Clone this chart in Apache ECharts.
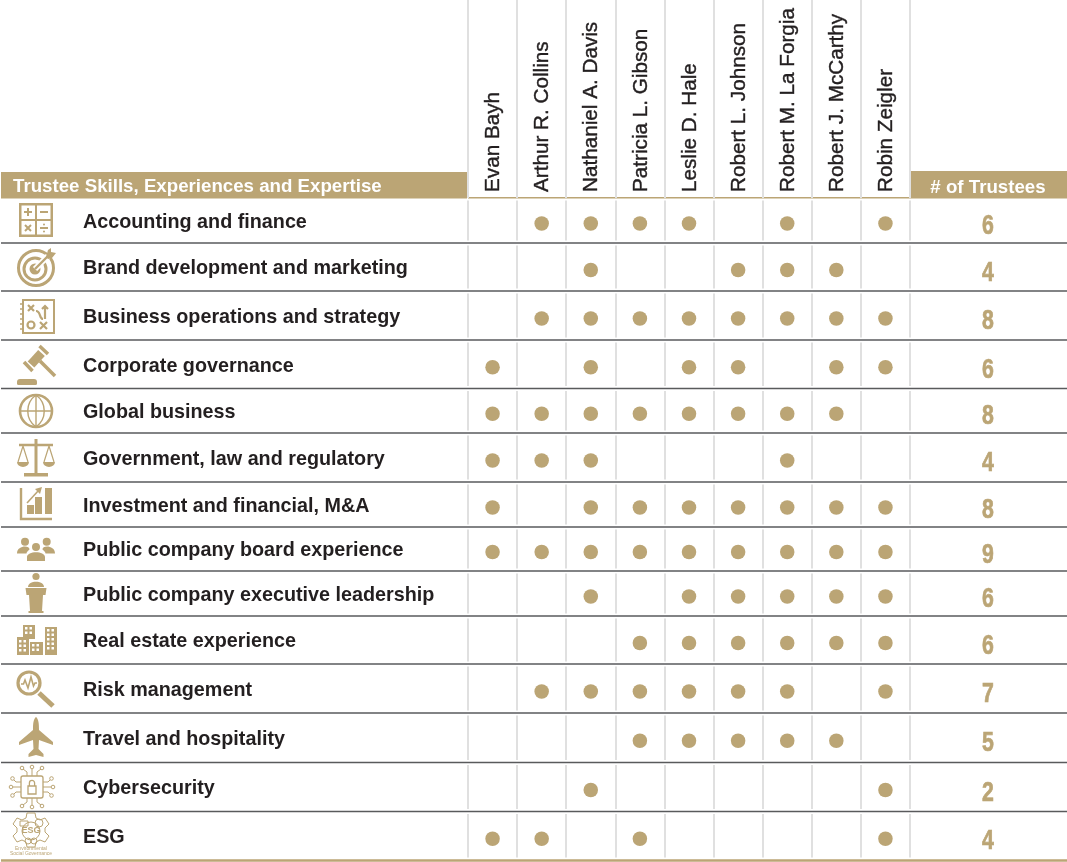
<!doctype html>
<html>

<head>
    <meta charset="utf-8">
    <title>Trustee skills matrix</title>
    <script src="https://cdn.jsdelivr.net/npm/echarts@6/dist/echarts.min.js"></script>
    <style>
        html, body { margin: 0; padding: 0; background: #fff; }
        #container { width: 1067px; height: 862px; }
    </style>
</head>

<body>
    <div id="container"></div>

    <script type="text/javascript">
        // chart data
        var trusteeNames = ['Evan Bayh', 'Arthur R. Collins', 'Nathaniel A. Davis', 'Patricia L. Gibson', 'Leslie D. Hale',
            'Robert L. Johnson', 'Robert M. La Forgia', 'Robert J. McCarthy', 'Robin Zeigler'];
        var skillNames = ['Accounting and finance', 'Brand development and marketing', 'Business operations and strategy',
            'Corporate governance', 'Global business', 'Government, law and regulatory', 'Investment and financial, M&A',
            'Public company board experience', 'Public company executive leadership', 'Real estate experience',
            'Risk management', 'Travel and hospitality', 'Cybersecurity', 'ESG'];
        var trusteeCounts = [6, 4, 8, 6, 8, 4, 8, 9, 6, 6, 7, 5, 2, 4];
        var skillMatrix = [
            [0, 1, 1, 1, 1, 0, 1, 0, 1],
            [0, 0, 1, 0, 0, 1, 1, 1, 0],
            [0, 1, 1, 1, 1, 1, 1, 1, 1],
            [1, 0, 1, 0, 1, 1, 0, 1, 1],
            [1, 1, 1, 1, 1, 1, 1, 1, 0],
            [1, 1, 1, 0, 0, 0, 1, 0, 0],
            [1, 0, 1, 1, 1, 1, 1, 1, 1],
            [1, 1, 1, 1, 1, 1, 1, 1, 1],
            [0, 0, 1, 0, 1, 1, 1, 1, 1],
            [0, 0, 0, 1, 1, 1, 1, 1, 1],
            [0, 1, 1, 1, 1, 1, 1, 0, 1],
            [0, 0, 0, 1, 1, 1, 1, 1, 0],
            [0, 0, 1, 0, 0, 0, 0, 0, 1],
            [1, 1, 0, 1, 0, 0, 0, 0, 1]
        ];

        // layout: the rows of the table are not all the same height
        var rowEdges = [198, 243, 291, 340, 388.5, 433, 482, 527, 571, 616, 664, 713, 762.5, 811.5, 860];
        var GOLD = '#bba575';
        var INK = '#231f20';
        var FONT = '"Liberation Sans", Arial, sans-serif';

        function circle(x, y, r) {
            return 'M' + (x - r) + ' ' + y + 'A' + r + ' ' + r + ' 0 1 0 ' + (x + r) + ' ' + y +
                'A' + r + ' ' + r + ' 0 1 0 ' + (x - r) + ' ' + y + 'Z';
        }
        function box(x, y, w, h) {
            return 'M' + x + ' ' + y + 'h' + w + 'v' + h + 'h' + (-w) + 'Z';
        }
        function windows(x, y, cols, rows, step) {
            var d = '';
            for (var a = 0; a < cols; a++) {
                for (var b = 0; b < rows; b++) {
                    d += box(x + a * step, y + b * step, step * 0.55, step * 0.55);
                }
            }
            return d;
        }

        // icons, drawn around their own centre. f = filled, w = white filled, s = stroke width
        var skillIcons = [
            { cx: 36, cy: 220, parts: [
                { f: box(-17, -17, 34, 34) },
                { w: box(-14.5, -14.5, 13.5, 13.5) + box(1, -14.5, 13.5, 13.5) + box(-14.5, 1, 13.5, 13.5) + box(1, 1, 13.5, 13.5) },
                { s: 2, d: 'M-12 -8h8M-8 -12v8M4 -8h8M-11 5l6 6M-5 5l-6 6M4 8h8' },
                { f: circle(8, 4.5, 1) + circle(8, 11.5, 1) }
            ] },
            { cx: 36, cy: 268, parts: [
                { s: 3, d: circle(0, 0, 17.5) },
                { s: 3, d: circle(-1, 1, 11) },
                { f: circle(-1, 1, 5.5) },
                { s: 6, white: true, d: 'M-1 1L12 -12' },
                { s: 2.4, d: 'M-1 1L13 -13' },
                { f: 'M10 -11L12 -18L15 -20L15 -16L20 -15L16 -10L12 -9Z' }
            ] },
            { cx: 37, cy: 316, parts: [
                { s: 2, d: box(-14, -16, 31, 33) },
                { s: 1.6, d: 'M-17 -12h4M-17 -7h4M-17 -2h4M-17 3h4M-17 8h4M-17 13h4' },
                { s: 2.2, d: 'M-9 -11l6 6M-3 -11l-6 6M3 6l7 7M10 6l-7 7M-1 -5C4 -5 2 3 6 3M8 3V-10M5 -7l3 -3l3 3' },
                { s: 2.2, d: circle(-6, 9, 3.5) }
            ] },
            { cx: 36, cy: 365, parts: [
                { s: 3.5, d: 'M3.5 -19L12 -11M-12 -3L-3.5 6' },
                { s: 9, d: 'M-5 -0.5L5.5 -12' },
                { s: 3.5, d: 'M4 -4L19 11' },
                { f: 'M-19 17a3 3 0 0 1 3 -3h14a3 3 0 0 1 3 3v1.5a1.5 1.5 0 0 1 -1.5 1.5h-17a1.5 1.5 0 0 1 -1.5 -1.5Z' }
            ] },
            { cx: 36, cy: 411, parts: [
                { s: 2.6, d: circle(0, 0, 16) },
                { s: 1.4, d: 'M0 -16C-11 -8 -11 8 0 16C11 8 11 -8 0 -16M0 -16V16M-16 0H16' }
            ] },
            { cx: 36, cy: 458, parts: [
                { s: 3, d: 'M0 -19V17' },
                { f: box(-12, 15, 24, 3.5) },
                { s: 2.4, d: 'M-17 -13L17 -13' },
                { s: 1.2, d: 'M-13 -12L-18 4M-13 -12L-8 4M13 -12L8 4M13 -12L18 4' },
                { f: 'M-19 4H-7A6 5 0 0 1 -19 4ZM7 4H19A6 5 0 0 1 7 4Z' }
            ] },
            { cx: 36, cy: 504, parts: [
                { s: 2.4, d: 'M-15 -16V15H16' },
                { f: box(-9, 1, 7, 9) + box(-1, -7, 7, 17) + box(9, -16, 7, 26) },
                { s: 1.6, d: 'M-9 -1L3 -14' },
                { f: 'M6 -17L-1 -15L4 -10Z' }
            ] },
            { cx: 36, cy: 549, parts: [
                { f: circle(-11, -7.3, 4) + circle(10.7, -7.3, 4) + circle(0, -2, 4) },
                { f: 'M-19 4.5C-19 -4 -6 -4 -6.5 0.5C-8 2 -9.5 3 -9.5 4.5ZM19 4.5C19 -4 6 -4 6.5 0.5C8 2 9.5 3 9.5 4.5ZM-9 12V8C-9 1.5 9 1.5 9 8V12Z' }
            ] },
            { cx: 36, cy: 593, parts: [
                { f: circle(0, -16.5, 3.6) },
                { f: 'M-8 -6C-8 -13 8 -13 8 -6Z' },
                { f: 'M-10.5 -5H10.5L9.5 2H-9.5ZM-7 2H7L6 18H-6ZM-7.5 18H7.5V20H-7.5Z' }
            ] },
            { cx: 36, cy: 640, parts: [
                { f: box(-19, -3, 12, 18) + box(-13, -15, 12, 14) + box(-6, 2, 13, 13) + box(9, -13, 12, 28) },
                { w: windows(-17, 0, 2, 3, 4.5) + windows(-11, -13, 2, 2, 4.5) + windows(-4, 4, 2, 2, 4.5) + windows(11, -11, 2, 5, 4.5) }
            ] },
            { cx: 36, cy: 689, parts: [
                { s: 3.2, d: circle(-7, -6, 11) },
                { s: 1.6, d: 'M-15 -5H-12.5L-11 -9L-8 -1L-5 -12L-2.5 -3L-1 -6H1' },
                { s: 5, d: 'M3 4L17 17' }
            ] },
            { cx: 36, cy: 737, parts: [
                { f: 'M0 -20C2.5 -18 3 -14 3 -7L17 5V8L3 3L2.5 12L7.5 17V20L0 18L-7.5 20V17L-2.5 12L-3 3L-17 8V5L-3 -7C-3 -14 -2.5 -18 0 -20Z' }
            ] },
            { cx: 32, cy: 787, parts: [
                { s: 1.3, d: 'M-11 -9a2 2 0 0 1 2 -2h18a2 2 0 0 1 2 2v18a2 2 0 0 1 -2 2h-18a2 2 0 0 1 -2 -2Z' },
                { s: 1.3, d: box(-4, -1, 8, 8) + 'M-2.6 -1V-4A2.6 2.6 0 0 1 2.6 -4V-1' },
                { s: 1, d: 'M-11 -5H-16L-18 -7M-11 0H-19M-11 5H-16L-18 7M11 -5H16L18 -7M11 0H19M11 5H16L18 7M-5 -11V-15L-9 -18M0 -11V-18M5 -11V-15L9 -18M-5 11V15L-9 18M0 11V18M5 11V15L9 18' },
                { s: 1, d: circle(-19.5, -8.5, 1.8) + circle(-21, 0, 1.8) + circle(-19.5, 8.5, 1.8) + circle(19.5, -8.5, 1.8) + circle(21, 0, 1.8) + circle(19.5, 8.5, 1.8) + circle(-10, -19, 1.8) + circle(0, -20, 1.8) + circle(10, -19, 1.8) + circle(-10, 19, 1.8) + circle(0, 20, 1.8) + circle(10, 19, 1.8) }
            ] },
            { cx: 31, cy: 830, parts: [
                { s: 1, d: 'M-4 -17H4L5 -12L9 -10L14 -12L18 -6L14 -2V2L18 6L14 12L9 10L5 12L4 17H-4L-5 12L-9 10L-14 12L-18 6L-14 2V-2L-18 -6L-14 -12L-9 -10L-5 -12Z' },
                { s: 1, d: circle(0, 1, 9) + box(-11, -9, 8, 5) + circle(8, -7, 4) + circle(-3, 11, 3) + circle(3, 11, 3) }
            ] }
        ];

        // custom series, since only it knows svg paths
        function renderIcon(params) {
            var icon = skillIcons[params.dataIndex];
            return {
                type: 'group', x: icon.cx, y: icon.cy, silent: true,
                children: icon.parts.map(function (p) {
                    var style = { fill: 'none', stroke: 'none' };
                    if (p.f) style.fill = GOLD;
                    if (p.w) style.fill = '#fff';
                    if (p.s) {
                        style.stroke = p.white ? '#fff' : GOLD;
                        style.lineWidth = p.s;
                    }
                    return { type: 'path', shape: { pathData: p.f || p.w || p.d }, style: style };
                })
            };
        }

        // the counts are set in a condensed face, no such font here so squeeze the text
        function renderCount(params, api) {
            var i = params.dataIndex;
            return {
                type: 'text', silent: true,
                x: 988, y: (rowEdges[i] + rowEdges[i + 1]) / 2 + 6, scaleX: 0.76,
                style: {
                    text: String(api.value(0)), fill: GOLD, stroke: GOLD, lineWidth: 0.7, font: 'bold 28px ' + FONT,
                    align: 'center', verticalAlign: 'middle'
                }
            };
        }

        var graphics = [
            { type: 'rect', shape: { x: 1, y: 172, width: 466, height: 26.5 }, style: { fill: GOLD }, silent: true },
            { type: 'rect', shape: { x: 911, y: 171, width: 156, height: 27.5 }, style: { fill: GOLD }, silent: true },
            { type: 'rect', shape: { x: 468, y: 197, width: 443, height: 1.5 }, style: { fill: GOLD }, silent: true },
            { type: 'text', x: 13, y: 187, silent: true, style: { text: 'Trustee Skills, Experiences and Expertise', fill: '#fff', font: 'bold 18.7px ' + FONT, verticalAlign: 'middle' } },
            { type: 'text', x: 988, y: 187.5, silent: true, style: { text: '# of Trustees', fill: '#fff', font: 'bold 18.7px ' + FONT, align: 'center', verticalAlign: 'middle' } },
            // the ESG icon also carries small lettering
            { type: 'text', x: 31, y: 831, silent: true, style: { text: 'ESG', fill: GOLD, font: 'bold 9px ' + FONT, align: 'center', verticalAlign: 'middle' } },
            { type: 'text', x: 31, y: 851, silent: true, style: { text: 'Environmental\nSocial Governance', fill: GOLD, font: '5px ' + FONT, align: 'center', verticalAlign: 'middle', lineHeight: 5 } }
        ];
        for (var e = 1; e < rowEdges.length; e++) {
            var last = e === rowEdges.length - 1;
            graphics.push({
                type: 'rect', silent: true,
                shape: { x: 1, y: rowEdges[e] - 0.75, width: 1066, height: last ? 2.6 : 1.5 },
                style: { fill: last ? GOLD : '#595a5c' }
            });
        }

        // the header grid holds the trustee names, then every row gets its own grid
        var grids = [{ left: 468, width: 442, top: 0, height: 198 }];
        var xAxes = [{
            gridIndex: 0, type: 'category', data: trusteeNames, position: 'bottom',
            axisLine: { show: false }, axisTick: { show: false },
            splitLine: { show: true, interval: 0, lineStyle: { color: '#e0e0e0', width: 2 } },
            axisLabel: {
                inside: true, rotate: 90, interval: 0, margin: 6, color: INK, fontFamily: FONT, fontSize: 20.7,
                verticalAlign: 'top', lineHeight: 2, textBorderColor: INK, textBorderWidth: 0.4
            }
        }];
        var yAxes = [{ gridIndex: 0, type: 'value', show: false }];
        var series = [{
            type: 'custom', name: 'icons', coordinateSystem: 'none',
            renderItem: renderIcon, silent: true, data: skillNames
        }, {
            type: 'custom', name: 'counts', coordinateSystem: 'none',
            renderItem: renderCount, silent: true, data: trusteeCounts
        }];

        skillNames.forEach(function (skill, i) {
            var g = i + 1;
            grids.push({ left: 468, width: 442, top: rowEdges[i] + 2.5, height: rowEdges[i + 1] - rowEdges[i] - 5 });
            xAxes.push({
                gridIndex: g, type: 'category', data: trusteeNames,
                axisLine: { show: false }, axisTick: { show: false }, axisLabel: { show: false },
                splitLine: { show: true, interval: 0, lineStyle: { color: '#e0e0e0', width: 2 } }
            });
            yAxes.push({
                gridIndex: g, type: 'category', data: [skill], position: 'left',
                axisLine: { show: false }, axisTick: { show: false },
                // top aligned with a short line box nudges the text a little below the row centre
                axisLabel: { margin: 385, align: 'left', verticalAlign: 'top', lineHeight: 4, color: INK, fontFamily: FONT, fontWeight: 'bold', fontSize: 19.75 }
            });
            var points = [];
            skillMatrix[i].forEach(function (has, j) {
                if (has) points.push([trusteeNames[j], skill]);
            });
            series.push({
                type: 'scatter', name: skill, xAxisIndex: g, yAxisIndex: g,
                symbol: 'circle', symbolSize: 14.5, symbolOffset: [0, 3],
                itemStyle: { color: GOLD, opacity: 1 }, silent: true, data: points
            });
        });

        var myChart = echarts.init(document.getElementById('container'));
        myChart.setOption({
            animation: false,
            backgroundColor: '#fff',
            tooltip: { show: false },
            grid: grids,
            xAxis: xAxes,
            yAxis: yAxes,
            graphic: graphics,
            series: series
        });
    </script>
</body>

</html>
